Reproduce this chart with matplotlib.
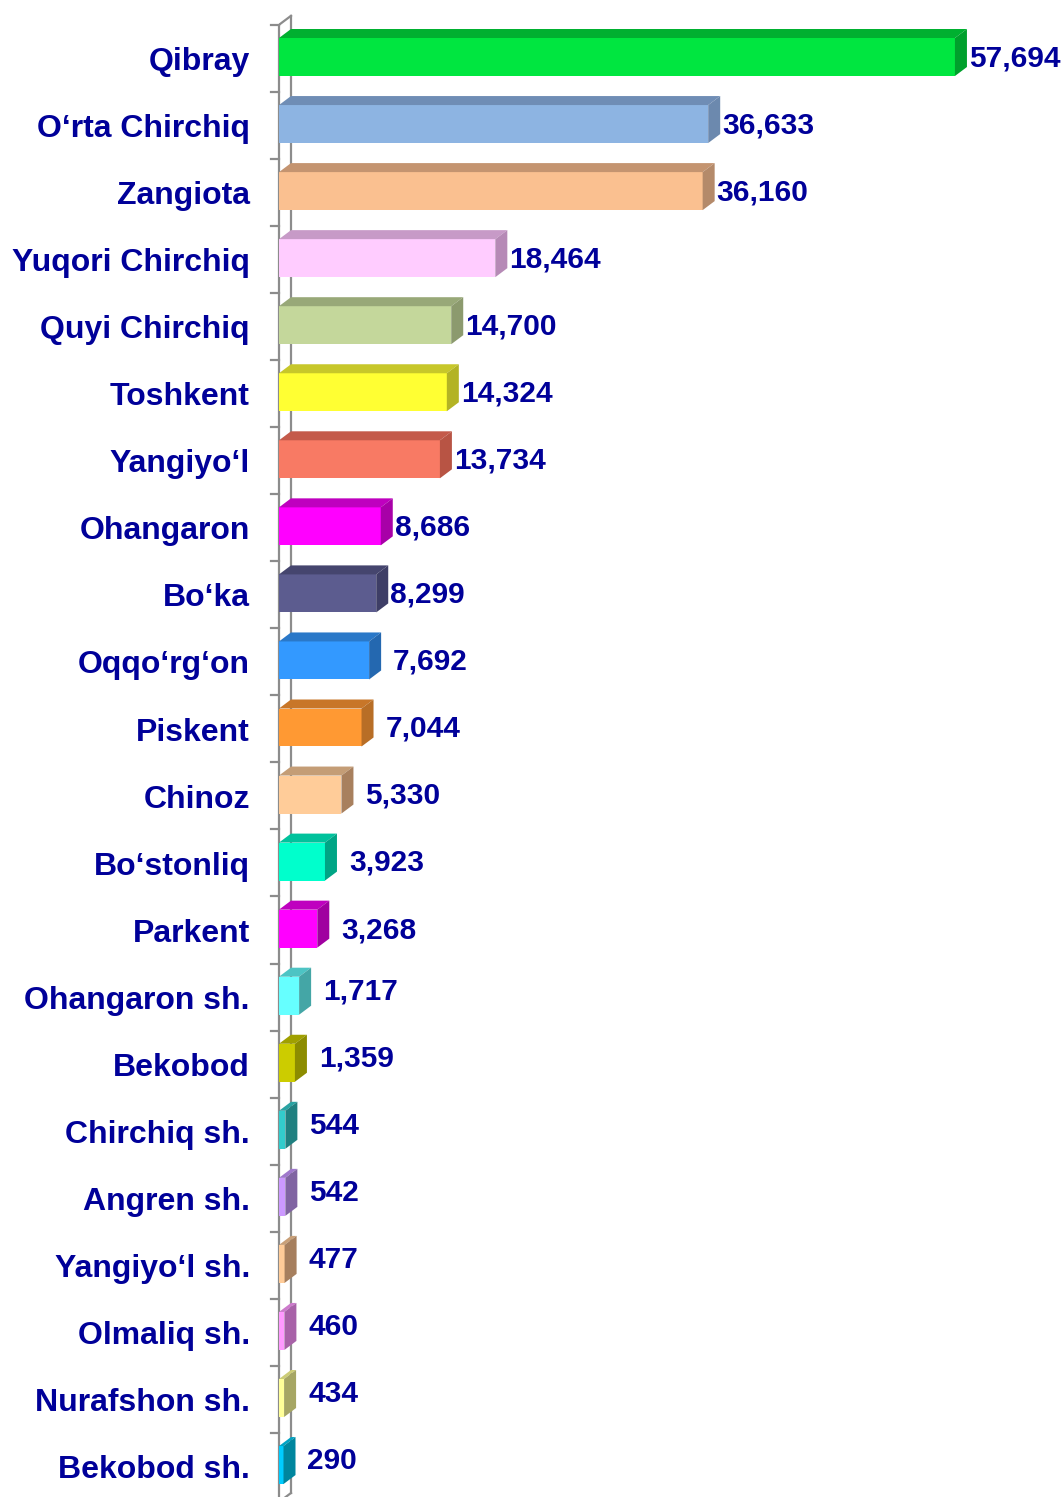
import matplotlib
matplotlib.use("Agg")
import matplotlib.pyplot as plt
from matplotlib.patches import Polygon

# data
districts = ["Qibray", "O\u2018rta Chirchiq", "Zangiota", "Yuqori Chirchiq", "Quyi Chirchiq",
             "Toshkent", "Yangiyo\u2018l", "Ohangaron", "Bo\u2018ka", "Oqqo\u2018rg\u2018on",
             "Piskent", "Chinoz", "Bo\u2018stonliq", "Parkent", "Ohangaron sh.", "Bekobod",
             "Chirchiq sh.", "Angren sh.", "Yangiyo\u2018l sh.", "Olmaliq sh.", "Nurafshon sh.",
             "Bekobod sh."]
values = [57694, 36633, 36160, 18464, 14700, 14324, 13734, 8686, 8299, 7692, 7044,
          5330, 3923, 3268, 1717, 1359, 544, 542, 477, 460, 434, 290]
front_colors = ["#00E640", "#8DB4E2", "#FAC090", "#FFCCFF", "#C4D79B", "#FFFF33",
                "#F87A64", "#FF00FF", "#5C5C8F", "#3399FF", "#FF9933", "#FFCC99",
                "#00FFCC", "#FF00FF", "#66FFFF", "#CCCC00", "#33CCCC", "#CC99FF",
                "#FFCC99", "#FF99FF", "#FFFF99", "#00CCFF"]
side_colors = ["#00A02C", "#6C89AE", "#B48A6A", "#B68AB6", "#8C9A6E", "#B3B324",
               "#B85444", "#A800A8", "#3E3E66", "#2468B0", "#B86E26", "#A8805E",
               "#00A585", "#A000A0", "#44A6A6", "#8C8C00", "#208080", "#8064A2",
               "#A67F5E", "#A862A8", "#A6A664", "#00869E"]
top_colors = ["#00B030", "#6F8DB5", "#C49470", "#C79AC7", "#98A878", "#C7C72A",
              "#C45A4A", "#BF00BF", "#45456E", "#2A78C8", "#C87628", "#C49D76",
              "#00C29C", "#BF00BF", "#4DC4C4", "#A0A000", "#2AA3A3", "#9F78CC",
              "#C9A078", "#CC7ACC", "#CCCC77", "#00A3C4"]

W, H, DPI = 1063, 1497, 100
px_per_unit = 0.011716
row_px = 67.05
x0_px, y0_px = 279, 57

fig = plt.figure(figsize=(W / DPI, H / DPI), dpi=DPI)
ax = fig.add_axes([x0_px / W, 0, 1 - x0_px / W, 1])
ax.set_xlim(0, (W - x0_px) / px_per_unit)
ax.set_ylim((H - y0_px) / row_px, -y0_px / row_px)
ax.axis("off")

dx = 12 / px_per_unit
dy = 9 / row_px
bh = 38 / row_px
min_w = 4.5 / px_per_unit
text_color = "#000099"
font = "Liberation Sans"
grey = "#8C8C8C"

# axis wall
n = len(values)
ytop = -0.48
ybot = (H - y0_px) / row_px + 0.2
yback = (1493 - y0_px) / row_px
ax.plot([0, 0], [ytop, ybot], color=grey, lw=1.6, zorder=1, clip_on=False)
ax.plot([dx, dx], [ytop - dy, yback], color=grey, lw=1.6, zorder=1)
ax.plot([0, dx], [ytop, ytop - dy], color=grey, lw=1.6, zorder=1)
ax.plot([0, dx], [yback + dy, yback], color=grey, lw=1.6, zorder=1)
for k in range(n + 1):
    ax.plot([-8 / px_per_unit, 0], [k - 0.48, k - 0.48], color=grey, lw=1.6,
            zorder=1, clip_on=False)

for i, v in enumerate(values):
    w = max(v, min_w)
    top = i - bh / 2
    bot = i + bh / 2
    ax.barh(i, w, height=bh, left=0, color=front_colors[i], zorder=3)
    ax.add_patch(Polygon([(0, top), (w, top), (w + dx, top - dy), (dx, top - dy)],
                         closed=True, facecolor=top_colors[i], edgecolor="none", zorder=3))
    ax.add_patch(Polygon([(w, top), (w + dx, top - dy), (w + dx, bot - dy), (w, bot)],
                         closed=True, facecolor=side_colors[i], edgecolor="none", zorder=3))
    gap = 2 if v >= 8000 else 12
    lift = 3 if v < 2000 else -1
    ax.annotate(f"{v:,}", xy=(w + dx, i), xytext=(gap * 0.72, lift), textcoords="offset points",
                ha="left", va="center", fontsize=21.5, fontweight="bold", color=text_color,
                family=font, zorder=4)
    fig.text(250 / W, 1 - (y0_px + row_px * i + 5) / H, districts[i], ha="right", va="center",
             fontsize=23, fontweight="bold", color=text_color, family=font)

fig.savefig("out.png", dpi=DPI, facecolor="white")
